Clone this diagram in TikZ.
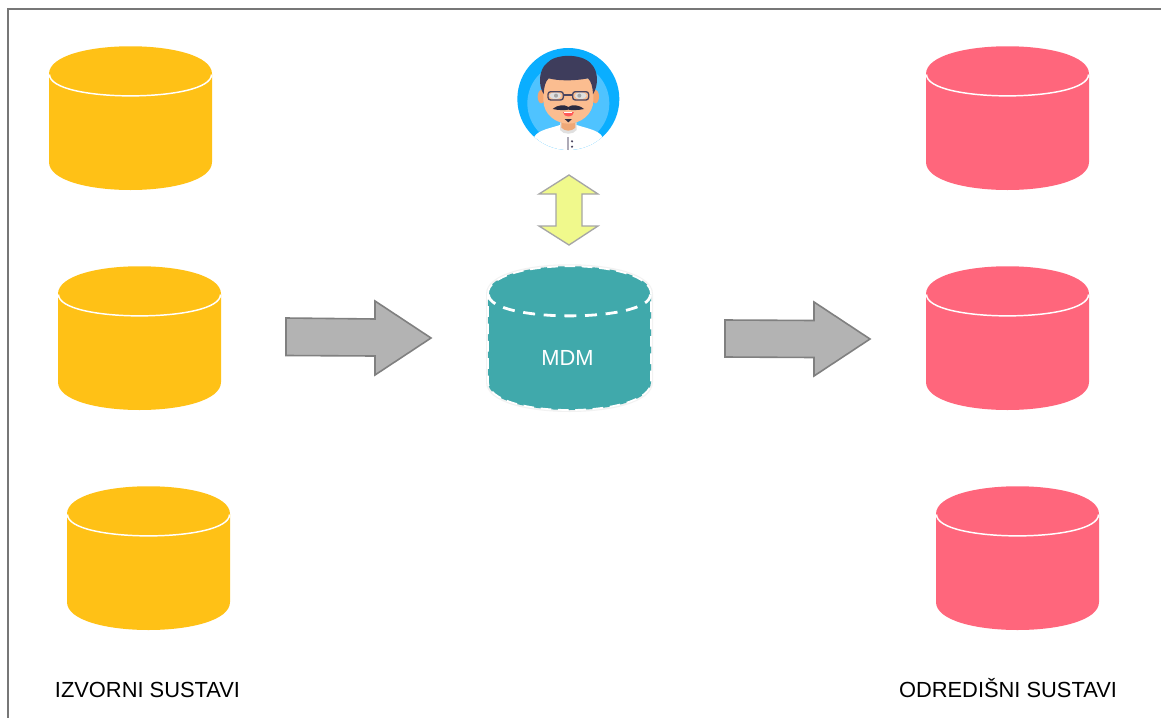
\documentclass[tikz,border=0pt]{standalone}
\usepackage{fontspec}
\setmainfont{Liberation Sans}
\definecolor{cyellow}{HTML}{FFC116}
\definecolor{cred}{HTML}{FF667C}
\definecolor{cteal}{HTML}{40A9AB}
\definecolor{arrfill}{HTML}{B3B3B3}
\definecolor{arrline}{HTML}{808080}
\definecolor{dblfill}{HTML}{F0F98C}
\definecolor{dblline}{HTML}{A6A6A6}
\definecolor{frameline}{HTML}{777777}
\definecolor{avouter}{HTML}{0AAEFF}
\definecolor{avinner}{HTML}{4FC3FF}
\definecolor{skin}{HTML}{FBBD90}
\definecolor{ear}{HTML}{F4A56F}
\definecolor{hair}{HTML}{3E3D5C}
\definecolor{glass}{HTML}{4A4560}
\definecolor{neck}{HTML}{EFA877}
\tikzset{
  labeltext/.style={font=\fontsize{16.4}{19}\selectfont,text=black,inner sep=0pt,anchor=base},
  blockarrow/.style={fill=arrfill,draw=arrline,line width=1.2pt,line join=miter},
  dblarrow/.style={fill=dblfill,draw=dblline,line width=1pt,line join=miter},
  seam/.style={draw=white,line width=1.1pt},
}
% x, y
\newcommand{\cylbody}[2]{(#1,#2+28) .. controls (#1,#2-9) and (#1+163,#2-9) .. (#1+163,#2+28)
  -- (#1+163,#2+116) .. controls (#1+163,#2+153.33) and (#1,#2+153.33) .. (#1,#2+116) -- cycle}
\newcommand{\cylseam}[2]{(#1+0.5,#2+28.5) .. controls (#1+0.5,#2+57) and (#1+162.5,#2+57) .. (#1+162.5,#2+28.5)}
\newcommand{\plaincyl}[3]{%
  \fill[#3] \cylbody{#1}{#2};
  \draw[seam] \cylseam{#1}{#2};}
\begin{document}
\begin{tikzpicture}[x=0.75pt,y=-0.75pt]
\useasboundingbox (0,0) rectangle (1161,718);
\fill[white] (0,0) rectangle (1161,718);
% frame
\draw[frameline,line width=1.1pt] (8,718) -- (8,9) -- (1161,9);
% source cylinders
\plaincyl{49}{46}{cyellow}
\plaincyl{58}{266}{cyellow}
\plaincyl{67}{486}{cyellow}
% target cylinders
\plaincyl{926}{46}{cred}
\plaincyl{926}{266}{cred}
\plaincyl{936}{486}{cred}
% MDM cylinder
\draw[draw=black!5,line width=3pt] \cylbody{488}{266};
\fill[cteal] \cylbody{488}{266};
\draw[draw=white,line width=1.3pt,dash pattern=on 8pt off 5pt] \cylbody{488}{266};
\draw[draw=white,line width=2.1pt,dash pattern=on 9pt off 6.5pt] \cylseam{488}{266};
\node[font=\fontsize{16.4}{19}\selectfont,text=white,inner sep=0pt] (mdm) at (567.5,358) {MDM};
% block arrows
\draw[blockarrow] (286,318) -- (375,319) -- (375,301) -- (431,338) -- (375,375) -- (375,356) -- (286,355.5) -- cycle;
\draw[blockarrow] (725,320) -- (814,320.5) -- (814,302) -- (870,339) -- (814,376) -- (814,357.5) -- (725,357) -- cycle;
% double arrow
\draw[dblarrow] (569,175) -- (598,194) -- (582,194) -- (582,226) -- (598,226) -- (569,245) -- (539,226) -- (556,226) -- (556,194) -- (539,194) -- cycle;
% avatar (coordinates in a 3x grid)
\begin{scope}[shift={(500,35)},x=0.25pt,y=-0.25pt]
  \fill[avouter] (205,192) circle[radius=153];
  \begin{scope}
    \clip (205,192) circle[radius=153];
    \fill[avinner] (205,205) circle[radius=123];
    \fill[white] (103,305) .. controls (115,285) and (150,280) .. (180,270) -- (230,270)
       .. controls (260,280) and (295,285) .. (307,305) -- (320,360) -- (90,360) -- cycle;
    \fill[black!12] (180,262) -- (230,262) -- (230,285) .. controls (220,300) and (190,300) .. (180,285) -- cycle;
    \fill[neck] (184,255) -- (226,255) -- (226,278) .. controls (215,290) and (195,290) .. (184,278) -- cycle;
    \fill[glass!45!white] (202,306) rectangle (206,348);
    \fill[glass] (216,319) circle[radius=3.5];
    \fill[glass] (216,335) circle[radius=3.5];
  \end{scope}
  % ears
  \fill[ear] (124,185) ellipse[x radius=11,y radius=20];
  \fill[ear] (286,185) ellipse[x radius=11,y radius=20];
  % face
  \fill[skin] (130,130) -- (280,130) -- (280,195) .. controls (280,240) and (240,266) .. (205,266)
     .. controls (170,266) and (130,240) .. (130,195) -- cycle;
  % hair
  \fill[hair] (131,178) .. controls (114,150) and (116,105) .. (140,85)
     .. controls (165,55) and (245,55) .. (272,85)
     .. controls (296,107) and (296,150) .. (279,178)
     .. controls (278,155) and (274,140) .. (264,130)
     .. controls (225,138) and (175,138) .. (146,130)
     .. controls (136,140) and (132,155) .. (131,178) -- cycle;
  % eyes
  \fill[white!75!gray] (166,182) ellipse[x radius=18,y radius=10];
  \fill[white!75!gray] (242,182) ellipse[x radius=18,y radius=10];
  \fill[gray!70] (168,182) circle[radius=6];
  \fill[gray!70] (238,182) circle[radius=6];
  % glasses
  \draw[glass,line width=1pt,rounded corners=2pt] (144,170) rectangle (190,195);
  \draw[glass,line width=1pt,rounded corners=2pt] (218,170) rectangle (266,195);
  \draw[glass,line width=1pt] (190,180) -- (218,180);
  % moustache
  \fill[hair!70!black] (158,222) .. controls (175,208) and (195,208) .. (205,216)
     .. controls (215,208) and (235,208) .. (252,222)
     .. controls (235,226) and (215,226) .. (205,224)
     .. controls (195,226) and (175,226) .. (158,222) -- cycle;
  % mouth
  \fill[red!65!white] (189,231) -- (221,231) .. controls (221,248) and (189,248) .. (189,231) -- cycle;
  \fill[white] (193,231) rectangle (217,235);
  % goatee
  \fill[hair!70!black] (194,252) -- (216,252) -- (205,262) -- cycle;
\end{scope}
% labels
\node[labeltext] (src) at (147.5,697) {IZVORNI SUSTAVI};
\node[labeltext] (dst) at (1008,697) {ODREDIŠNI SUSTAVI};
\end{tikzpicture}
\end{document}
